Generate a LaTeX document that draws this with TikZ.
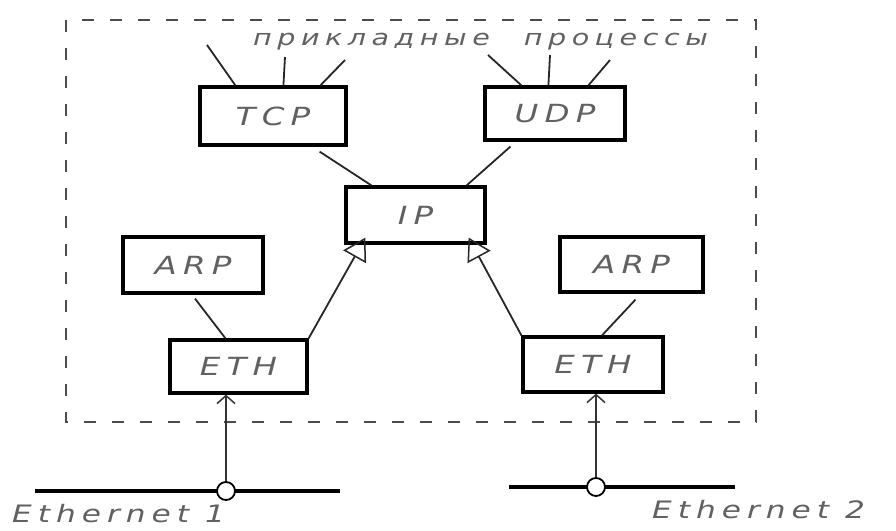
\documentclass[tikz,border=0pt]{standalone}
\usepackage{fontspec}
\setmainfont{DejaVu Sans}
\newfontfamily\hand{DejaVu Sans}[LetterSpace=25, FakeStretch=1.3]
\usepackage{tikz}
\usetikzlibrary{arrows.meta}
\tikzset{
    layer/.style={draw=black, line width=3.2pt, inner sep=0pt, text=black!62,
        font=\hand\itshape\fontsize{25}{29}\selectfont},
    link/.style={draw=black!85, line width=1.8pt},
    toip/.style={link, -{Triangle[open, length=22pt, width=26pt, line width=1.5pt]}},
    feed/.style={draw=black!80, line width=1.5pt, -{Straight Barb[length=8pt, width=18pt]}},
    bus/.style={draw=black, line width=3.4pt},
    tap/.style={shape=circle, draw=black, line width=1.8pt, fill=white, minimum size=18pt, inner sep=0pt},
    note/.style={text=black!62, inner sep=0pt, font=\hand\itshape\fontsize{22}{26}\selectfont},
    hostframe/.style={draw=black!70, line width=2pt, dash pattern=on 12pt off 16pt}}

\begin{document}
\begin{tikzpicture}[x=1pt, y=-1pt]
    \useasboundingbox (0,0) rectangle (896,530);

    % host boundary
    \draw[hostframe] (66,20) rectangle (756,422);

    % protocol modules
    \node[layer, minimum width=146pt, minimum height=58pt] (tcp) at (273,116) {TCP};
    \node[layer, minimum width=140pt, minimum height=53pt] (udp) at (555,113.5) {UDP};
    \node[layer, minimum width=139pt, minimum height=56pt] (ip) at (415.5,215) {IP};
    \node[layer, minimum width=140pt, minimum height=56pt] (arpL) at (193,265) {ARP};
    \node[layer, minimum width=137pt, minimum height=53pt] (ethL) at (238.5,366.5) {ETH};
    \node[layer, minimum width=143pt, minimum height=55pt] (arpR) at (631.5,264.5) {ARP};
    \node[layer, minimum width=140pt, minimum height=55pt] (ethR) at (593,364.5) {ETH};

    \node[note, anchor=base west] (apps) at (253,45) {прикладные\hspace{34pt}процессы};

    % application entry points
    \coordinate (t1) at (207,45);
    \coordinate (t2) at (285,57);
    \coordinate (t3) at (345,60);
    \coordinate (u1) at (488,55);
    \coordinate (u2) at (550,55);
    \coordinate (u3) at (610,60);
    \draw[link] (t1) -- ([xshift=37pt]tcp.north west);
    \draw[link] (t2) -- ([xshift=85pt]tcp.north west);
    \draw[link] (t3) -- ([xshift=122pt]tcp.north west);
    \draw[link] (u1) -- ([xshift=38pt]udp.north west);
    \draw[link] (u2) -- ([xshift=65pt]udp.north west);
    \draw[link] (u3) -- ([xshift=105pt]udp.north west);

    \draw[link] ([shift={(-28,5)}]tcp.south east) -- ([xshift=27pt]ip.north west);
    \draw[link] ([shift={(27,5)}]udp.south west) -- ([xshift=-20pt]ip.north east);
    \draw[toip] (ethL.north east) -- ([shift={(21,-7)}]ip.south west);
    \draw[toip] (ethR.north west) -- ([shift={(-18,-7)}]ip.south east);
    \draw[link] ([shift={(2,4)}]arpL.south) -- ([xshift=-13pt]ethL.north);
    \draw[link] ([shift={(4,6)}]arpR.south) -- ([xshift=9pt]ethR.north);

    % networks
    \coordinate (lan1a) at (35,491);
    \coordinate (lan1b) at (340,491);
    \coordinate (lan2a) at (509,487);
    \coordinate (lan2b) at (735,487);
    \draw[bus] (lan1a) -- (lan1b);
    \draw[bus] (lan2a) -- (lan2b);
    \node[tap] (tapL) at (226,491) {};
    \node[tap] (tapR) at (596,487) {};
    \draw[feed] (tapL) -- (tapL |- ethL.south);
    \draw[feed] (tapR) -- (tapR |- ethR.south);

    \node[note, anchor=base west, font=\hand\itshape\fontsize{24}{28}\selectfont] (net1) at (12,522) {Ethernet 1};
    \node[note, anchor=base west, font=\hand\itshape\fontsize{24}{28}\selectfont] (net2) at (652,518) {Ethernet 2};
\end{tikzpicture}
\end{document}
